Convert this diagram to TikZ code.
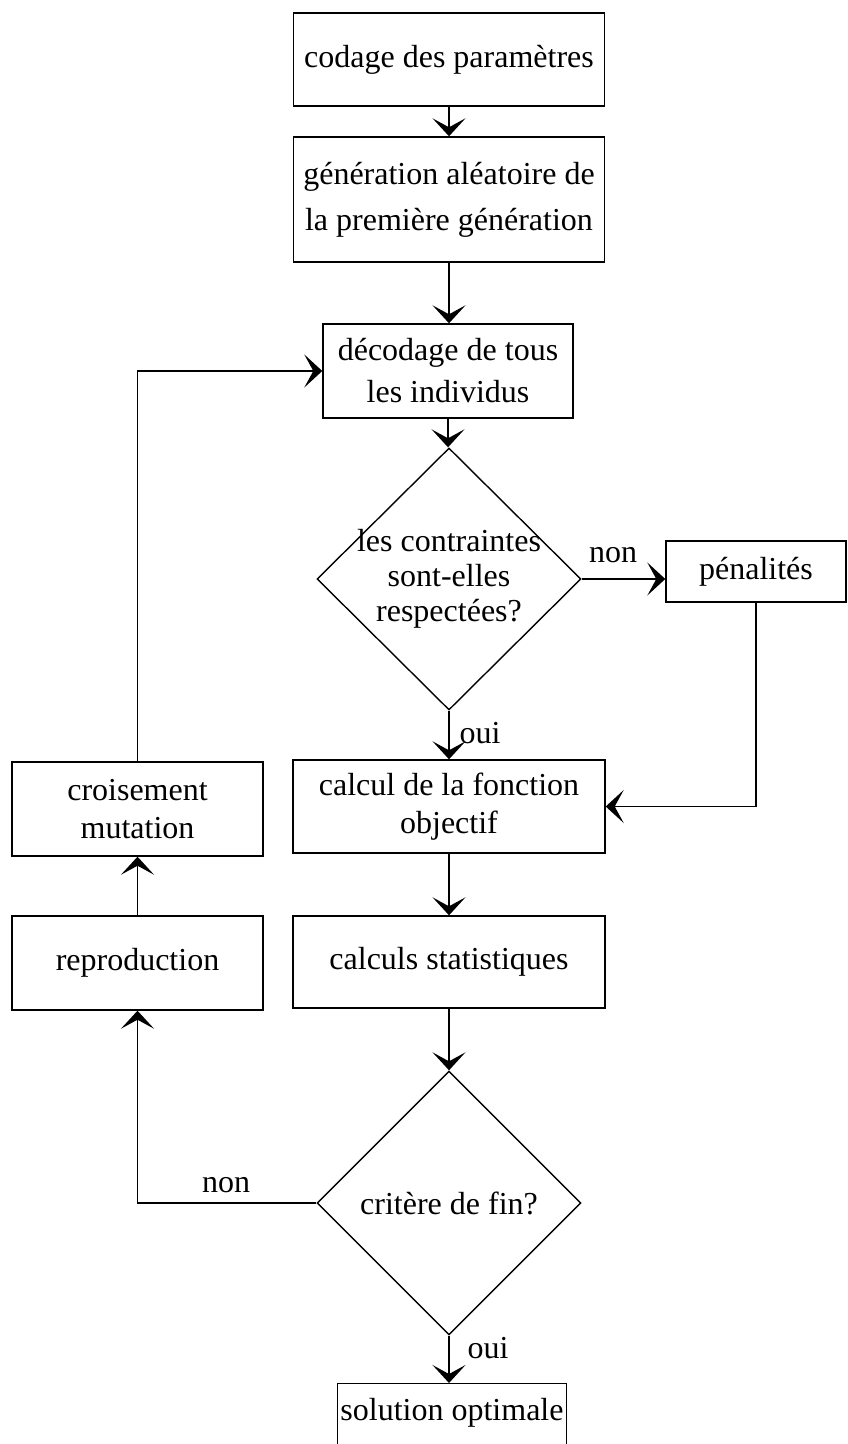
\documentclass[tikz,border=0pt]{standalone}
\usepackage{fontspec}
\setmainfont{Liberation Serif}
\usetikzlibrary{shapes.geometric, arrows.meta, positioning, calc}

\begin{document}
\begin{tikzpicture}[
    x=0.5pt, y=-0.5pt,
    etape/.style={rectangle, draw=black, line width=0.7pt,
                  align=center, inner sep=0pt,
                  font=\fontsize{16}{19}\selectfont},
    test/.style={diamond, draw=black, line width=0.7pt,
                 inner sep=0pt, minimum width=132pt,
                 minimum height=131pt},
    testtxt/.style={align=center, inner sep=0pt,
                    font=\fontsize{16}{17.5}\selectfont},
    lbl/.style={inner sep=0pt, font=\fontsize{16}{19}\selectfont},
    flow/.style={-{Stealth[length=9pt,width=16.5pt,inset=4.5pt]},
                 line width=0.7pt},
]
\useasboundingbox (0,0) rectangle (847,1444);

% ==========================================================
% Main column
% ==========================================================
\node[etape, minimum width=155.5pt, minimum height=46.5pt] (cod)
    at (449, 59.5) {codage des paramètres};
\node[etape, minimum width=155.5pt, minimum height=62.5pt,
      font=\fontsize{16}{23}\selectfont] (gen)
    at (449, 199.5) {génération aléatoire de\\ la première génération};
\node[etape, minimum width=125pt, minimum height=47pt,
      font=\fontsize{16}{21}\selectfont] (dec)
    at (448, 371) {décodage de tous\\ les individus};

\node[test] (d1) at (449, 579) {};
\node[testtxt] (d1txt) at (d1) {les contraintes\\ sont-elles\\ respectées?};

\node[etape, minimum width=90pt, minimum height=30.5pt] (pen)
    at (756, 571.5) {pénalités};

\node[etape, minimum width=156pt, minimum height=46.5pt] (calc)
    at (449, 806.5) {calcul de la fonction\\ objectif};
\node[etape, minimum width=156pt, minimum height=46pt] (stats)
    at (449, 962) {calculs statistiques};

\node[test, minimum height=132pt] (d2) at (449, 1203) {};
\node[testtxt] (d2txt) at (d2) {critère de fin?};

\node[etape, minimum width=114.5pt, text height=18.5pt, text depth=50pt,
      anchor=north] (sol)
    at (452, 1383) {solution optimale};

% -------- left column: genetic operators -----------
\node[etape, minimum width=125.5pt, minimum height=47pt] (cro)
    at (137.5, 809) {croisement\\ mutation};
\node[etape, minimum width=125.5pt, minimum height=47pt] (rep)
    at (137.5, 963) {reproduction};

% ==========================================================
% Connectors
% ==========================================================
\draw[flow] (cod.south) -- (gen.north);
\draw[flow] (gen.south) -- (gen.south |- dec.north);
\draw[flow] (dec.south) -- (dec.south |- d1.north);
\draw[flow] (d1.east) -- (d1.east -| pen.west);
\draw[flow] (pen.south) |- (calc.east);
\draw[flow] (d1.south) -- (calc.north);
\draw[flow] (calc.south) -- (stats.north);
\draw[flow] (stats.south) -- (d2.north);
\draw[flow] (d2.south) -- (d2.south |- sol.north);
\draw[flow] (d2.west) -| (rep.south);
\draw[flow] (rep.north) -- (cro.south);
\draw[flow] (cro.north) |- (dec.west);

% branch labels
\node[lbl] (non1) at (613, 555) {non};
\node[lbl] (oui1) at (480, 733) {oui};
\node[lbl] (non2) at (226, 1185) {non};
\node[lbl] (oui2) at (488, 1348) {oui};

\end{tikzpicture}
\end{document}
